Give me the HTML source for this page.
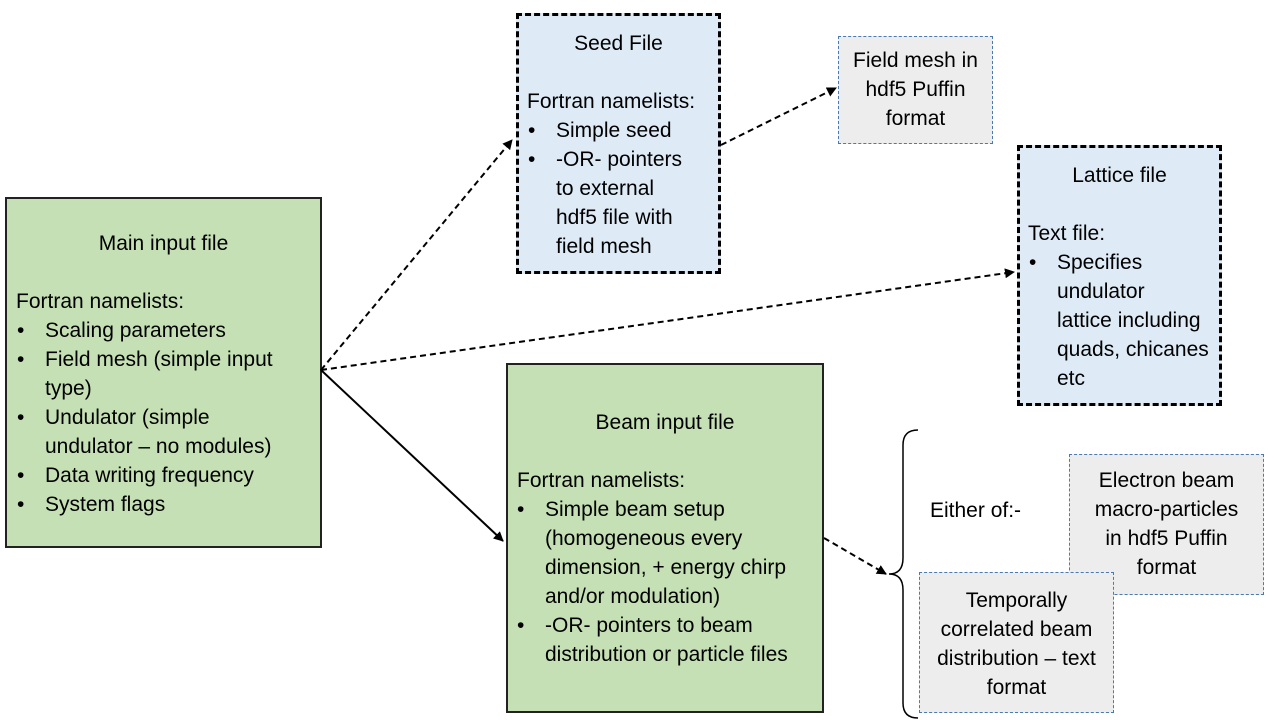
<!DOCTYPE html>
<html><head><meta charset="utf-8"><style>
body{margin:0;width:1280px;height:720px;background:#fff;position:relative;font-family:"Liberation Sans",sans-serif;font-size:21px;color:#000;overflow:hidden}
.b{position:absolute;box-sizing:border-box}
.t{position:absolute;line-height:29px;white-space:nowrap}
.c{text-align:center}
.bl:before{content:"•";position:absolute;left:-28px}
</style></head><body>
<div class="b" style="left:5px;top:197px;width:317px;height:351px;background:#c5e0b4;border:2px solid #222"></div>
<div class="b" style="left:506px;top:363px;width:318px;height:350px;background:#c5e0b4;border:2px solid #222"></div>
<div class="b" style="left:516px;top:13px;width:205px;height:261px;background:#deebf7;border:3px dashed #000"></div>
<div class="b" style="left:1017px;top:145px;width:205px;height:261px;background:#deebf7;border:3px dashed #000"></div>
<div class="b" style="left:838px;top:36px;width:155px;height:108px;background:#ededed;border:1.5px dashed #4a7ab0"></div>
<div class="b" style="left:1069px;top:454px;width:195px;height:141px;background:#ededed;border:1.5px dashed #4a7ab0"></div>
<div class="b" style="left:919px;top:572px;width:195px;height:141px;background:#ededed;border:1.5px dashed #4a7ab0"></div>

<svg width="1280" height="720" style="position:absolute;left:0;top:0">
<defs><marker id="a" markerWidth="10" markerHeight="10" refX="9" refY="5" orient="auto" markerUnits="userSpaceOnUse"><path d="M0,0 L10,5 L0,10 z" fill="#000"/></marker></defs>
<g stroke="#000" stroke-width="2" fill="none">
<line x1="321" y1="370" x2="512" y2="140" stroke-dasharray="6,4" marker-end="url(#a)"/>
<line x1="321" y1="370" x2="1014" y2="272" stroke-dasharray="6,4" marker-end="url(#a)"/>
<line x1="321" y1="370" x2="503" y2="541" marker-end="url(#a)"/>
<line x1="721" y1="145" x2="836" y2="88" stroke-dasharray="6,4" marker-end="url(#a)"/>
<line x1="824" y1="538" x2="886" y2="574" stroke-dasharray="6,4" marker-end="url(#a)"/>
<path d="M918,430 Q903,430 903,445 L903,558 Q903,574 889,574 Q903,574 903,590 L903,703 Q903,718 918,718" stroke-width="1.5"/>
</g></svg>

<div class="t c" style="left:5px;width:317px;top:229px">Main input file</div>
<div class="t" style="left:16px;top:287px">Fortran namelists:</div>
<div class="t bl" style="left:45px;top:316px">Scaling parameters</div>
<div class="t bl" style="left:45px;top:345px">Field mesh (simple input</div>
<div class="t" style="left:45px;top:374px">type)</div>
<div class="t bl" style="left:45px;top:403px">Undulator (simple</div>
<div class="t" style="left:45px;top:432px">undulator – no modules)</div>
<div class="t bl" style="left:45px;top:461px">Data writing frequency</div>
<div class="t bl" style="left:45px;top:490px">System flags</div>

<div class="t c" style="left:516px;width:205px;top:29px">Seed File</div>
<div class="t" style="left:527px;top:87px">Fortran namelists:</div>
<div class="t bl" style="left:556px;top:116px">Simple seed</div>
<div class="t bl" style="left:556px;top:145px">-OR- pointers</div>
<div class="t" style="left:556px;top:174px">to external</div>
<div class="t" style="left:556px;top:203px">hdf5 file with</div>
<div class="t" style="left:556px;top:232px">field mesh</div>

<div class="t c" style="left:838px;width:155px;top:46px">Field mesh in<br>hdf5 Puffin<br>format</div>

<div class="t c" style="left:1017px;width:205px;top:161px">Lattice file</div>
<div class="t" style="left:1028px;top:219px">Text file:</div>
<div class="t bl" style="left:1057px;top:248px">Specifies</div>
<div class="t" style="left:1057px;top:277px">undulator</div>
<div class="t" style="left:1057px;top:306px">lattice including</div>
<div class="t" style="left:1057px;top:335px">quads, chicanes</div>
<div class="t" style="left:1057px;top:364px">etc</div>

<div class="t c" style="left:507px;width:316px;top:408px">Beam input file</div>
<div class="t" style="left:517px;top:466px">Fortran namelists:</div>
<div class="t bl" style="left:545px;top:495px">Simple beam setup</div>
<div class="t" style="left:545px;top:524px">(homogeneous every</div>
<div class="t" style="left:545px;top:553px">dimension, + energy chirp</div>
<div class="t" style="left:545px;top:582px">and/or modulation)</div>
<div class="t bl" style="left:545px;top:611px">-OR- pointers to beam</div>
<div class="t" style="left:545px;top:640px">distribution or particle files</div>

<div class="t" style="left:930px;top:496px">Either of:-</div>
<div class="t c" style="left:1069px;width:195px;top:466px">Electron beam<br>macro-particles<br>in hdf5 Puffin<br>format</div>
<div class="t c" style="left:919px;width:195px;top:586px">Temporally<br>correlated beam<br>distribution – text<br>format</div>
</body></html>
